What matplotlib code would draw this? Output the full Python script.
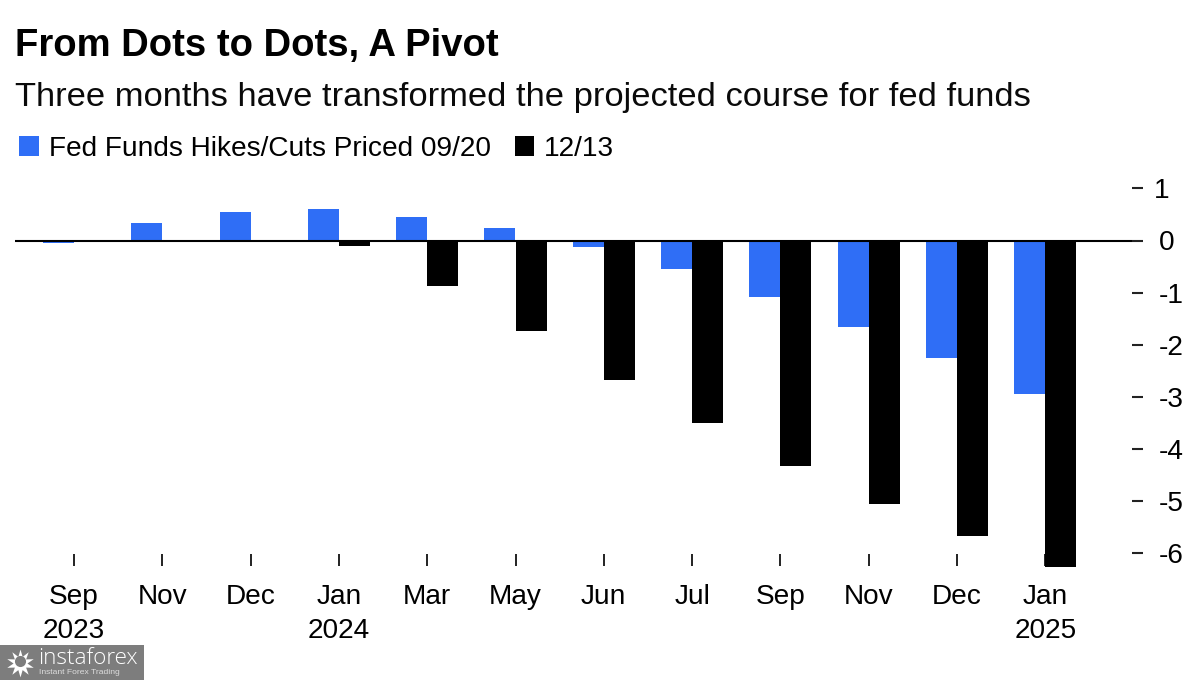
import numpy as np
import matplotlib.pyplot as plt
from matplotlib.patches import Rectangle

plt.rcParams['font.family'] = ['Liberation Sans', 'DejaVu Sans']

months = ['Sep\n2023', 'Nov', 'Dec', 'Jan\n2024', 'Mar', 'May', 'Jun', 'Jul', 'Sep', 'Nov', 'Dec', 'Jan\n2025']
sep20 = [-0.05, 0.33, 0.55, 0.60, 0.46, 0.24, -0.12, -0.55, -1.08, -1.66, -2.25, -2.95]
dec13 = [0.0, 0.0, -0.02, -0.10, -0.88, -1.74, -2.67, -3.50, -4.33, -5.05, -5.67, -6.27]
yticks = [1, 0, -1, -2, -3, -4, -5, -6]
ylabels = ['1', '0', '-1', '-2', '-3', '-4', '-5', '-6']

W, H = 1200, 680
BLUE = '#2f6ef6'
GREY = '#7d7d7d'

fig = plt.figure(figsize=(W / 100, H / 100), dpi=100, facecolor='white')

# axes placed in pixels, so that x = 0 is the first tick and y = 0 the baseline
left, right, top, bottom = 15, 1132, 170, 566
ax = fig.add_axes([left / W, 1 - bottom / H, (right - left) / W, (bottom - top) / H])
ax.set_xlim((left - 74) / 88.3, (right - 74) / 88.3)
ax.set_ylim((240.5 - bottom) / 52.1, (240.5 - top) / 52.1)

x = np.arange(len(months))
width = 31 / 88.3
b1 = ax.bar(x - width / 2, sep20, width, color=BLUE, clip_on=False, zorder=2,
            label='Fed Funds Hikes/Cuts Priced 09/20')
b2 = ax.bar(x + width / 2, dec13, width, color='black', clip_on=False, zorder=2, label='12/13')
ax.axhline(0, color='black', lw=1.5, zorder=3)

for s in ax.spines.values():
    s.set_visible(False)

ax.set_xticks(x, months, fontsize=20.2, linespacing=1.42)
ax.tick_params(axis='x', direction='in', length=9, width=1.4, pad=12.7, color='#222222')
ax.yaxis.tick_right()
ax.set_yticks(yticks, ylabels, fontsize=20.2, ha='left')
ax.tick_params(axis='y', direction='out', length=7.9, width=1.5, pad=11.5, color='#222222')
ax.yaxis.get_major_ticks()[0].set_pad(7.5)

fig.text(15 / W, 1 - 56 / H, 'From Dots to Dots, A Pivot', fontsize=27.5, fontweight='bold',
         va='baseline', ha='left', color='black')
fig.text(15 / W, 1 - 106 / H, 'Three months have transformed the projected course for fed funds',
         fontsize=24.8, va='baseline', ha='left', color='#0a0a0a')

fig.legend(handles=[b1, b2], loc='center left', bbox_to_anchor=(19 / W, 1 - 149 / H), ncol=2, frameon=False,
           fontsize=20.2, handlelength=0.7, handleheight=0.7, handletextpad=0.36,
           columnspacing=0.85, borderaxespad=0, borderpad=0)

# watermark
fig.add_artist(Rectangle((0, 0), 144 / W, 35 / H, transform=fig.transFigure, color=GREY, lw=0, zorder=0))
logo = fig.add_axes([5 / W, 3 / H, 29 / W, 29 / H], zorder=3)
logo.axis('off')
logo.set_xlim(-1, 1)
logo.set_ylim(-1, 1)
logo.plot(0, 0, marker=(10, 1, 0), ms=20, color='white', mew=0)
logo.plot(0, 0.1, 'o', ms=8, color=GREY, mew=0)
fig.text(38 / W, 1 - 659 / H, 'instaforex', fontsize=16.2, color='white', va='center', ha='left',
         family=['Open Sans', 'DejaVu Sans'], fontweight='light')
fig.text(39 / W, 1 - 673 / H, 'Instant Forex Trading', fontsize=6.1, color='#dddddd', va='center', ha='left')

fig.savefig('out.png', dpi=100, facecolor='white')
